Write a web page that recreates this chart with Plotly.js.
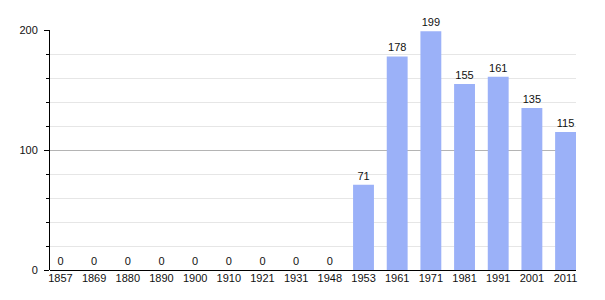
<!DOCTYPE html>
<html>
<head>
<meta charset="utf-8">
<script src="https://cdn.plot.ly/plotly-3.0.1.min.js"></script>
<style>html,body{margin:0;padding:0;background:#fff;}#chart{width:605px;height:300px;}</style>
</head>
<body>
<div id="chart"></div>
<script>
const years = ["1857","1869","1880","1890","1900","1910","1921","1931","1948","1953","1961","1971","1981","1991","2001","2011"];
const population = [0,0,0,0,0,0,0,0,0,71,178,199,155,161,135,115];
const yTicks = [0,100,200];

const trace = {
  type: 'bar',
  x: years,
  y: population,
  text: population.map(String),
  textposition: 'outside',
  cliponaxis: false,
  textfont: {family: 'Liberation Sans, Arial, sans-serif', size: 11, color: '#111'},
  marker: {color: '#9bb1f8', line: {width: 0}},
  width: 0.62,
  hoverinfo: 'none'
};

const layout = {
  width: 605, height: 300,
  margin: {l: 50, r: 29, t: 30, b: 30, pad: 0},
  paper_bgcolor: '#fff', plot_bgcolor: '#fff',
  showlegend: false,
  font: {family: 'Liberation Sans, Arial, sans-serif', size: 11, color: '#111'},
  xaxis: {
    type: 'category',
    range: [-0.31, 15.31],
    showgrid: false,
    showline: false,
    zeroline: false,
    ticks: '',
    ticklabelstandoff: 0,
    tickfont: {size: 11, color: '#111'},
    fixedrange: true
  },
  yaxis: {
    range: [0, 200],
    tickvals: yTicks,
    ticktext: yTicks.map(String),
    ticks: 'outside',
    ticklen: 5,
    tickcolor: '#000',
    tickwidth: 1,
    showline: true,
    linecolor: '#000',
    linewidth: 1,
    showgrid: true,
    gridcolor: '#b4b4b4',
    gridwidth: 1,
    zeroline: true,
    zerolinecolor: '#000',
    zerolinewidth: 1,
    minor: {dtick: 20, showgrid: true, gridcolor: '#e6e6e6', gridwidth: 1, ticks: 'outside', ticklen: 3, tickcolor: '#000'},
    tickfont: {size: 11, color: '#111'},
    ticklabelstandoff: 4,
    fixedrange: true
  }
};

Plotly.newPlot('chart', [trace], layout, {staticPlot: true, displayModeBar: false});
</script>
</body>
</html>
